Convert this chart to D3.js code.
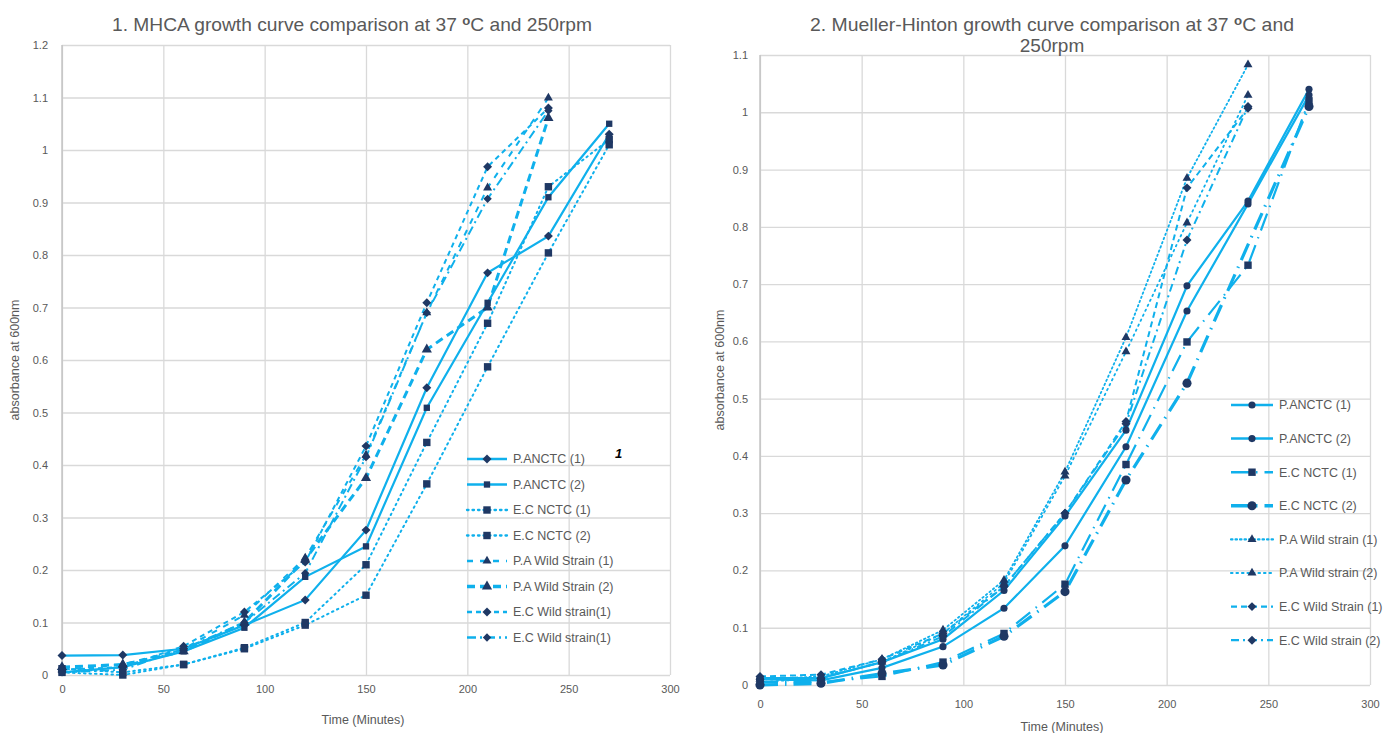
<!DOCTYPE html>
<html>
<head>
<meta charset="utf-8">
<script src="https://cdn.jsdelivr.net/npm/d3@7"></script>
<style>
  body { margin: 0; background: #fff; }
  text { font-family: "Liberation Sans", Arial, sans-serif; fill: #595959; }
</style>
</head>
<body>
<div id="my_dataviz"></div>
<script>
// sampling times (minutes)
var times = [0, 30, 60, 90, 120, 150, 180, 210, 240, 270]
var xTicks = [0, 50, 100, 150, 200, 250, 300]

// chart 1 - MHCA
var mhcaNames = ["P.ANCTC (1)", "P.ANCTC (2)", "E.C NCTC (1)", "E.C NCTC (2)",
  "P.A Wild Strain (1)", "P.A Wild Strain (2)", "E.C Wild strain(1)", "E.C Wild strain(1)"]
var mhcaPaNctc1 = [0.037, 0.038, 0.05, 0.095, 0.143, 0.276, 0.547, 0.766, 0.836, 1.03]
var mhcaPaNctc2 = [0.005, 0.015, 0.045, 0.09, 0.187, 0.245, 0.509, 0.709, 0.91, 1.05]
var mhcaEcNctc1 = [0.005, 0.0, 0.02, 0.05, 0.095, 0.152, 0.364, 0.587, 0.804, 1.01]
var mhcaEcNctc2 = [0.012, 0.005, 0.02, 0.052, 0.1, 0.21, 0.443, 0.67, 0.93, 1.02]
var mhcaPaWild1 = [0.01, 0.02, 0.05, 0.114, 0.223, 0.419, 0.69, 0.928, 1.099, null]
var mhcaPaWild2 = [0.015, 0.02, 0.045, 0.1, 0.22, 0.375, 0.62, 0.70, 1.061, null]
var mhcaEcWild1 = [0.01, 0.015, 0.055, 0.12, 0.215, 0.436, 0.709, 0.968, 1.08, null]
var mhcaEcWild1b = [0.005, 0.01, 0.05, 0.1, 0.194, 0.415, 0.69, 0.907, 1.075, null]

// chart 2 - Mueller-Hinton
var mhNames = ["P.ANCTC (1)", "P.ANCTC (2)", "E.C NCTC (1)", "E.C NCTC (2)",
  "P.A Wild strain (1)", "P.A Wild strain (2)", "E.C Wild Strain (1)", "E.C Wild strain (2)"]
var mhPaNctc1 = [0.01, 0.008, 0.03, 0.067, 0.134, 0.243, 0.416, 0.653, 0.84, 1.03]
var mhPaNctc2 = [0.012, 0.012, 0.04, 0.08, 0.165, 0.295, 0.445, 0.697, 0.845, 1.04]
var mhEcNctc1 = [0.005, 0.005, 0.015, 0.04, 0.09, 0.176, 0.385, 0.599, 0.733, 1.02]
var mhEcNctc2 = [0.0, 0.003, 0.02, 0.035, 0.085, 0.163, 0.358, 0.527, null, 1.01]
var mhPaWild1 = [0.01, 0.015, 0.045, 0.096, 0.183, 0.372, 0.607, 0.885, 1.083, null]
var mhPaWild2 = [0.005, 0.012, 0.04, 0.09, 0.178, 0.365, 0.582, 0.807, 1.03, null]
var mhEcWild1 = [0.015, 0.018, 0.045, 0.09, 0.172, 0.30, 0.46, 0.868, 1.007, null]
var mhEcWild2 = [0.01, 0.012, 0.04, 0.085, 0.172, 0.30, 0.456, 0.777, 1.01, null]

var lineColor = "#0fb0ec"
var markerColor = "#1f3864"

var svg = d3.select("#my_dataviz")
  .append("svg")
    .attr("width", 1398)
    .attr("height", 733)

// builds a series list from names, value arrays and line styles
function makeSeries(names, values, styles) {
  return names.map(function(n, i) {
    var pts = times.map(function(t, j) { return {t: t, v: values[i][j]} })
      .filter(function(p) { return p.v !== null })
    return {name: n, points: pts, style: styles[i]}
  })
}

// diamond = square turned by 45 degrees (Excel style)
var diamond = "diamond"

var mhcaStyles = [
  {dash: null, width: 2.2, sym: diamond, size: 40},
  {dash: null, width: 2.2, sym: d3.symbolSquare, size: 40},
  {dash: "1.5,4", width: 2, sym: d3.symbolSquare, size: 55, cap: "round"},
  {dash: "1.5,4", width: 2, sym: d3.symbolSquare, size: 55, cap: "round"},
  {dash: "6,7", width: 2, sym: d3.symbolTriangle, size: 35},
  {dash: "8,5", width: 3, sym: d3.symbolTriangle, size: 45},
  {dash: "5,4", width: 2, sym: diamond, size: 40},
  {dash: "9,4,2,4", width: 2, sym: diamond, size: 35}
]
var mhStyles = [
  {dash: null, width: 2.2, sym: d3.symbolCircle, size: 40},
  {dash: null, width: 2.2, sym: d3.symbolCircle, size: 40},
  {dash: "18,7,1.5,7", width: 2.2, sym: d3.symbolSquare, size: 55},
  {dash: "18,7,1.5,7", width: 3.2, sym: d3.symbolCircle, size: 65},
  {dash: "1.5,3", width: 1.8, sym: d3.symbolTriangle, size: 35, cap: "round"},
  {dash: "1.5,4", width: 1.8, sym: d3.symbolTriangle, size: 35, cap: "round"},
  {dash: "6,4", width: 2, sym: diamond, size: 40},
  {dash: "8,4,2,4", width: 2, sym: diamond, size: 40}
]

var mhcaSeries = makeSeries(mhcaNames,
  [mhcaPaNctc1, mhcaPaNctc2, mhcaEcNctc1, mhcaEcNctc2, mhcaPaWild1, mhcaPaWild2, mhcaEcWild1, mhcaEcWild1b],
  mhcaStyles)
var mhSeries = makeSeries(mhNames,
  [mhPaNctc1, mhPaNctc2, mhEcNctc1, mhEcNctc2, mhPaWild1, mhPaWild2, mhEcWild1, mhEcWild2],
  mhStyles)

function markerPath(st) {
  var type = st.sym === diamond ? d3.symbolSquare : st.sym
  return d3.symbol().type(type).size(st.size)()
}
function markerRot(st) {
  return st.sym === diamond ? " rotate(45)" : ""
}

function drawChart(c) {
  var x = d3.scaleLinear().domain([0, 300]).range([c.left, c.right])
  var y = d3.scaleLinear().domain([0, c.yMax]).range([c.bottom, c.top])
  var g = svg.append("g")

  // horizontal grid + y labels
  var yAxis = g.append("g")
    .attr("transform", "translate(" + c.left + ",0)")
    .call(d3.axisLeft(y).tickValues(d3.range(0, c.yMax + 0.001, 0.1))
      .tickSize(-(c.right - c.left)).tickPadding(c.yPad)
      .tickFormat(function(d) { return String(+d.toFixed(1)) }))
  yAxis.select(".domain").remove()
  yAxis.selectAll("line").attr("stroke", "#d9d9d9").attr("stroke-width", 1.3)
  yAxis.selectAll("text").style("font-size", "11px").attr("fill", "#595959")

  // vertical grid + x labels
  var xAxis = g.append("g")
    .attr("transform", "translate(0," + c.bottom + ")")
    .call(d3.axisBottom(x).tickValues(xTicks)
      .tickSize(-(c.bottom - c.top)).tickPadding(c.xPad))
  xAxis.select(".domain").remove()
  xAxis.selectAll("line").attr("stroke", "#d9d9d9").attr("stroke-width", 1.3)
  xAxis.selectAll("text").style("font-size", "11px").attr("fill", "#595959")

  // axis line on the left
  g.append("line")
    .attr("x1", c.left).attr("x2", c.left)
    .attr("y1", c.top).attr("y2", c.bottom)
    .attr("stroke", "#bfbfbf").attr("stroke-width", 1.3)

  var line = d3.line()
    .x(function(d) { return x(d.t) })
    .y(function(d) { return y(d.v) })

  // series lines
  g.selectAll("path.series")
    .data(c.series)
    .enter()
    .append("path")
      .attr("class", "series")
      .attr("d", function(d) { return line(d.points) })
      .attr("fill", "none")
      .attr("stroke", lineColor)
      .attr("stroke-width", function(d) { return d.style.width })
      .attr("stroke-linecap", function(d) { return d.style.cap || "butt" })
      .attr("stroke-dasharray", function(d) { return d.style.dash })

  // markers
  c.series.forEach(function(s) {
    g.selectAll(null)
      .data(s.points)
      .enter()
      .append("path")
        .attr("d", markerPath(s.style))
        .attr("transform", function(d) { return "translate(" + x(d.t) + "," + y(d.v) + ")" + markerRot(s.style) })
        .attr("fill", markerColor)
  })

  // legend
  var legend = g.selectAll(".legend")
    .data(c.series)
    .enter()
    .append("g")
      .attr("class", "legend")
      .attr("transform", function(d, i) { return "translate(" + c.legX + "," + (c.legY + i * c.legStep) + ")" })
  legend.append("line")
    .attr("x1", 0).attr("x2", c.legLen)
    .attr("stroke", lineColor)
    .attr("stroke-width", function(d) { return d.style.width + 0.3 })
    .attr("stroke-linecap", function(d) { return d.style.cap || "butt" })
    .attr("stroke-dasharray", function(d) { return d.style.dash })
  legend.append("path")
    .attr("d", function(d) { return markerPath(d.style) })
    .attr("transform", function(d) { return "translate(" + (c.legLen / 2) + ",0)" + markerRot(d.style) })
    .attr("fill", markerColor)
  legend.append("text")
    .attr("x", c.legLen + 6)
    .attr("dy", "0.35em")
    .style("font-size", "12.5px")
    .text(function(d) { return d.name })

  // axis titles
  g.append("text")
    .attr("x", (c.left + c.right) / 2 - 3)
    .attr("y", c.xTitleY)
    .attr("text-anchor", "middle")
    .style("font-size", "12.5px")
    .text("Time (Minutes)")
  g.append("text")
    .attr("transform", "translate(" + c.yTitleX + "," + ((c.top + c.bottom) / 2) + ") rotate(-90)")
    .attr("text-anchor", "middle")
    .style("font-size", "12.5px")
    .text("absorbance at 600nm")

  // title lines, with a raised degree sign
  c.title.forEach(function(parts, i) {
    var t = g.append("text")
      .attr("x", c.titleX)
      .attr("y", c.titleY + i * 21)
      .attr("text-anchor", "middle")
      .style("font-size", "19px")
      .style("font-stretch", "condensed")
    if (c.titleLen[i]) t.attr("textLength", c.titleLen[i]).attr("lengthAdjust", "spacingAndGlyphs")
    parts.forEach(function(p) {
      var ts = t.append("tspan").text(p.s)
      if (p.sup) ts.attr("dy", -6).style("font-size", "13px").style("font-weight", "bold")
      if (p.down) ts.attr("dy", 6)
    })
  })
}

drawChart({
  left: 62, right: 670, top: 45, bottom: 675, yMax: 1.2, yPad: 14, xPad: 10,
  series: mhcaSeries,
  legX: 467, legY: 459, legStep: 25.5, legLen: 40,
  xTitleY: 724, yTitleX: 19,
  titleX: 352, titleY: 31, titleLen: [480],
  title: [[{s: "1. MHCA growth curve comparison at 37 "}, {s: "o", sup: true}, {s: "C and 250rpm", down: true}]]
})

drawChart({
  left: 760, right: 1370, top: 55, bottom: 685, yMax: 1.1, yPad: 12, xPad: 15,
  series: mhSeries,
  legX: 1231, legY: 405, legStep: 33.6, legLen: 42,
  xTitleY: 731, yTitleX: 724,
  titleX: 1052, titleY: 31, titleLen: [484, null],
  title: [[{s: "2. Mueller-Hinton growth curve comparison at 37 "}, {s: "o", sup: true}, {s: "C and", down: true}],
          [{s: "250rpm"}]]
})

// stray mark next to chart 1 legend
svg.append("text")
  .attr("x", 615).attr("y", 458)
  .style("font-size", "13px")
  .style("font-style", "italic")
  .style("font-weight", "bold")
  .style("fill", "#000")
  .text("1")
</script>
</body>
</html>
